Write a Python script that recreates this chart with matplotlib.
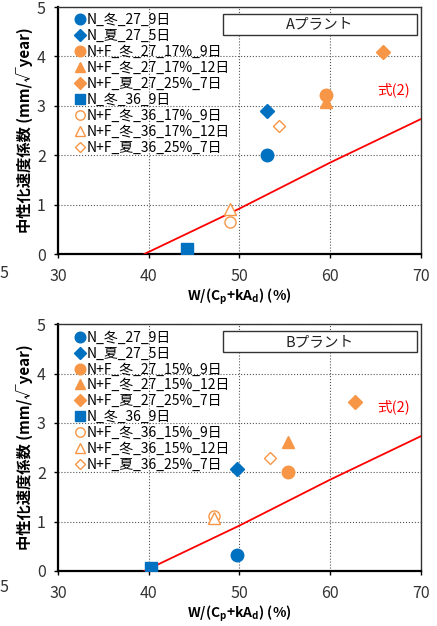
import matplotlib
matplotlib.use("Agg")
import matplotlib.pyplot as plt
from matplotlib.patches import Rectangle

plt.rcParams['font.family'] = ['Noto Sans CJK JP', 'DejaVu Sans']
plt.rcParams['mathtext.default'] = 'regular'

BLUE = "#0070C0"
ORANGE = "#F79646"

# marker styles per series (same order in both panels)
markers = ["o", "D", "o", "^", "D", "s", "o", "^", "D"]
colors = [BLUE, BLUE, ORANGE, ORANGE, ORANGE, BLUE, ORANGE, ORANGE, ORANGE]
filled = [True, True, True, True, True, True, False, False, False]
msizes = [9, 7, 9, 8.5, 7, 8.5, 8, 8, 6.5]

# A plant
labels_a = ["N_冬_27_9日", "N_夏_27_5日", "N+F_冬_27_17%_9日", "N+F_冬_27_17%_12日",
            "N+F_夏_27_25%_7日", "N_冬_36_9日", "N+F_冬_36_17%_9日",
            "N+F_冬_36_17%_12日", "N+F_夏_36_25%_7日"]
x_a = [53.0, 53.0, 59.5, 59.5, 65.8, 44.2, 49.0, 49.0, 54.4]
y_a = [2.00, 2.90, 3.22, 3.07, 4.08, 0.11, 0.64, 0.92, 2.59]

# B plant
labels_b = ["N_冬_27_9日", "N_夏_27_5日", "N+F_冬_27_15%_9日", "N+F_冬_27_15%_12日",
            "N+F_夏_27_25%_7日", "N_冬_36_9日", "N+F_冬_36_15%_9日",
            "N+F_冬_36_15%_12日", "N+F_夏_36_25%_7日"]
x_b = [49.7, 49.7, 55.4, 55.4, 62.8, 40.2, 47.2, 47.2, 53.4]
y_b = [0.32, 2.07, 2.00, 2.62, 3.43, 0.07, 1.11, 1.07, 2.28]

# equation (2) line
eq_x = [39.5, 50, 60, 70]
eq_y = [0.0, 0.92, 1.85, 2.73]

fig = plt.figure(figsize=(4.37, 6.26), dpi=100)
ax_top = fig.add_axes([0.1332, 0.5942, 0.8295, 0.3946])
ax_bot = fig.add_axes([0.1332, 0.0879, 0.8295, 0.3941])


def draw(ax, xs, ys, labels, title):
    for i in range(len(xs)):
        face = colors[i] if filled[i] else "white"
        ax.plot(xs[i], ys[i], linestyle="none", marker=markers[i], ms=msizes[i],
                markerfacecolor=face, markeredgecolor=colors[i], markeredgewidth=1,
                label=labels[i], zorder=5)
    ax.plot(eq_x, eq_y, color="red", lw=1.3, zorder=4)
    ax.text(67.0, 3.32, "式(2)", color="red", fontsize=10.5, ha="center", va="center")

    ax.set_xlim(30, 70)
    ax.set_ylim(0, 5)
    ax.set_xticks([30, 40, 50, 60, 70])
    ax.set_yticks([0, 1, 2, 3, 4, 5])
    ax.grid(True, color="#555555", linestyle=":", linewidth=0.8)
    ax.tick_params(direction="out", length=3, width=1, labelsize=11.5, colors="black",
                   labelcolor="#333333")
    ax.tick_params(axis="x", pad=7)
    ax.tick_params(axis="y", pad=6)
    for s in ["left", "bottom"]:
        ax.spines[s].set_linewidth(1.6)
        ax.spines[s].set_color("black")
    for s in ["top", "right"]:
        ax.spines[s].set_linewidth(1.0)
        ax.spines[s].set_color("#333333")

    ax.set_ylabel("中性化速度係数 (mm/√year)", fontsize=11, fontweight="bold", labelpad=3)
    ax.set_xlabel("W/(C$_p$+kA$_d$) (%)", fontsize=10, fontweight="bold", labelpad=1)

    ax.add_patch(Rectangle((0.4546, 0.8866), 0.5352, 0.0851, transform=ax.transAxes,
                           facecolor="white", edgecolor="#333333", lw=1.0, zorder=3))
    ax.text(0.722, 0.929, title, transform=ax.transAxes, fontsize=10.5,
            ha="center", va="center", color="#222222", zorder=6)

    ax.legend(loc="upper left", bbox_to_anchor=(0.032, 1.0), frameon=False,
              fontsize=10, handlelength=0.5, handletextpad=0.25, labelspacing=0.14,
              borderaxespad=0.0, borderpad=0.45, markerscale=0.85)


draw(ax_top, x_a, y_a, labels_a, "Aプラント")
draw(ax_bot, x_b, y_b, labels_b, "Bプラント")

# leftover digits from the neighbouring chart at the left edge
fig.text(0.0, 1 - 273 / 626, "5", fontsize=11.5, color="#333333", va="center")
fig.text(0.0, 1 - 588 / 626, "5", fontsize=11.5, color="#333333", va="center")

fig.savefig("out.png", dpi=100)
